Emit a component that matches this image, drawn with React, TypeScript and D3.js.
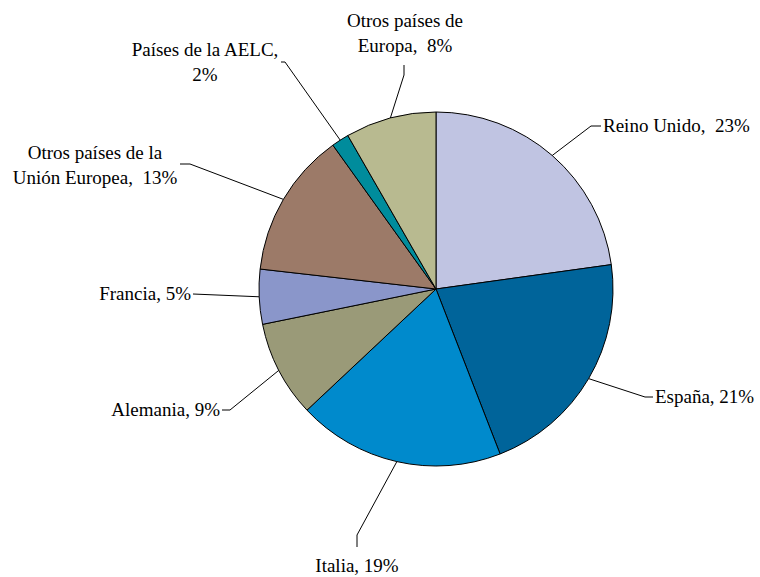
import React from "react";
import * as d3 from "d3";

const categories = [
  "Reino Unido",
  "España",
  "Italia",
  "Alemania",
  "Francia",
  "Otros países de la Unión Europea",
  "Países de la AELC",
  "Otros países de Europa",
];
const shares = [22.8, 21.3, 18.9, 8.8, 5.0, 13.3, 1.6, 8.3];
const labelLines = [
  ["Reino Unido,  23%"],
  ["España, 21%"],
  ["Italia, 19%"],
  ["Alemania, 9%"],
  ["Francia, 5%"],
  ["Otros países de la", "Unión Europea,  13%"],
  ["Países de la AELC,", "2%"],
  ["Otros países de", "Europa,  8%"],
];
const colors = [
  "#C0C4E2",
  "#00649A",
  "#008ACC",
  "#9A9A78",
  "#8A96CA",
  "#9C7A68",
  "#008C9C",
  "#B8BA90",
];

// label layout (page coordinates): elbow, end of leader, text anchor & position
const layout = [
  { elbow: [591, 126], end: [601, 126], tx: 603, ty: 132, anchor: "start" },
  { elbow: [645, 397], end: [653, 397], tx: 655, ty: 403, anchor: "start" },
  { elbow: [357, 535], end: [357, 547], tx: 357, ty: 572, anchor: "middle" },
  { elbow: [230, 410], end: [222, 410], tx: 220, ty: 416, anchor: "end" },
  { elbow: [193, 294], end: [193, 294], tx: 191, ty: 300, anchor: "end" },
  { elbow: [190, 164], end: [180, 164], tx: 95, ty: 159, anchor: "middle" },
  { elbow: [285, 62], end: [281, 62], tx: 205, ty: 56, anchor: "middle" },
  { elbow: [404, 75], end: [404, 65], tx: 405, ty: 27, anchor: "middle" },
];

const W = 760;
const H = 577;
const cx = 436;
const cy = 289;
const R = 177;
const FONT = "Liberation Serif, Tinos, Times New Roman, DejaVu Serif, serif";

export default function App() {
  const data = categories.map((c, i) => ({ name: c, value: shares[i], i }));
  const pie = d3
    .pie<any>()
    .sort(null)
    .value((d: any) => d.value);
  const arcs = pie(data);
  const arc = d3.arc<any>().innerRadius(0).outerRadius(R);
  const fontSize = 19;
  const lineH = 25;

  return (
    <svg
      width={W}
      height={H}
      style={{ position: "absolute", left: 0, top: 0, background: "#fff" }}
    >
      <rect width={W} height={H} fill="#fff" />
      <g transform={`translate(${cx},${cy})`}>
        {arcs.map((a, k) => (
          <path
            key={k}
            d={arc(a) as string}
            fill={colors[k]}
            stroke="#000"
            strokeWidth={1}
          />
        ))}
      </g>
      {arcs.map((a, k) => {
        const mid = (a.startAngle + a.endAngle) / 2;
        const px = cx + R * Math.sin(mid);
        const py = cy - R * Math.cos(mid);
        const L = layout[k];
        return (
          <g key={"l" + k}>
            <polyline
              points={`${px},${py} ${L.elbow[0]},${L.elbow[1]} ${L.end[0]},${L.end[1]}`}
              fill="none"
              stroke="#000"
              strokeWidth={1}
            />
            <text
              x={L.tx}
              y={L.ty}
              textAnchor={L.anchor as any}
              fill="#000"
              fontFamily={FONT}
              fontSize={fontSize}
              style={{ whiteSpace: "pre" }}
            >
              {labelLines[k].map((ln, j) => (
                <tspan key={j} x={L.tx} y={L.ty + j * lineH}>
                  {ln}
                </tspan>
              ))}
            </text>
          </g>
        );
      })}
    </svg>
  );
}
